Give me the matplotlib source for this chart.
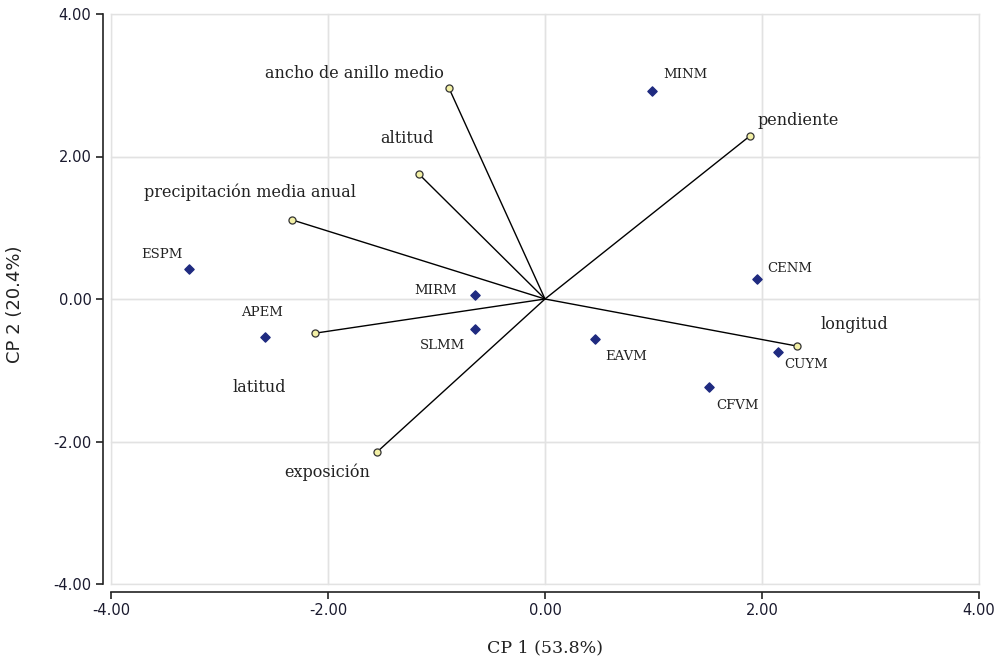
import matplotlib
matplotlib.use("Agg")
import matplotlib.pyplot as plt

# Observations (sites)
obs_names = ["MINM", "CENM", "ESPM", "MIRM", "SLMM", "APEM", "EAVM", "CUYM", "CFVM"]
obs_x = [0.99, 1.95, -3.28, -0.645, -0.645, -2.58, 0.46, 2.15, 1.51]
obs_y = [2.92, 0.28, 0.42, 0.056, -0.42, -0.53, -0.56, -0.74, -1.24]

# Variables (loadings)
var_names = ["ancho de anillo medio", "pendiente", "altitud", "precipitación media anual",
             "longitud", "latitud", "exposición"]
var_x = [-0.885, 1.89, -1.16, -2.33, 2.32, -2.12, -1.55]
var_y = [2.96, 2.29, 1.75, 1.11, -0.66, -0.48, -2.15]

ticks = [-4, -2, 0, 2, 4]
tick_labels = ["-4.00", "-2.00", "0.00", "2.00", "4.00"]

# label offsets in pixels (layout only)
obs_off = {"MINM": (33, 16), "CENM": (33, 11), "ESPM": (-27, 15), "MIRM": (-39, 5),
           "SLMM": (-33, -17), "APEM": (-3, 24), "EAVM": (31, -18), "CUYM": (28, -13),
           "CFVM": (29, -18)}
var_off = {"ancho de anillo medio": (-95, 15), "pendiente": (48, 15), "altitud": (-12, 36),
           "precipitación media anual": (-42, 28), "longitud": (58, 22), "latitud": (-56, -54),
           "exposición": (-50, -20)}

fig = plt.figure(figsize=(9.98, 6.63), dpi=100)
ax = fig.add_axes([111/998, 1-584/663, (979-111)/998, (584-14)/663])
ax.set_xlim(-4, 4)
ax.set_ylim(-4, 4)

for s in ["top", "right"]:
    ax.spines[s].set_visible(False)
for s in ["left", "bottom"]:
    ax.spines[s].set_position(("outward", 6))
    ax.spines[s].set_linewidth(1.2)
    ax.spines[s].set_color("#222222")

ax.set_xticks(ticks)
ax.set_yticks(ticks)
ax.set_xticklabels(tick_labels)
ax.set_yticklabels(tick_labels)
ax.tick_params(direction="out", length=5, width=1.2, color="#222222",
               labelsize=10.5, labelcolor="#1a1a2e", pad=3)
for lab in ax.get_xticklabels() + ax.get_yticklabels():
    lab.set_family("DejaVu Sans")

ax.grid(True, color="#e2e2e2", linewidth=1.0)
ax.set_axisbelow(True)
for t in ticks:
    ax.axhline(t, color="#e2e2e2", lw=1.0, zorder=0, clip_on=False)
    ax.axvline(t, color="#e2e2e2", lw=1.0, zorder=0, clip_on=False)

# vectors
for x, y in zip(var_x, var_y):
    ax.plot([0, x], [0, y], color="black", lw=1.0, zorder=2)
ax.scatter(var_x, var_y, marker="o", s=26, facecolor="#f3f0a6", edgecolor="#333333",
           linewidths=0.9, zorder=3)
ax.scatter(obs_x, obs_y, marker="D", s=22, color="#1f2a80", zorder=3)

serif = ["DejaVu Serif"]
for n, x, y in zip(obs_names, obs_x, obs_y):
    dx, dy = obs_off[n]
    ax.annotate(n, (x, y), xytext=(dx * 0.72, dy * 0.72), textcoords="offset points",
                ha="center", va="center", fontsize=9.5, family=serif, color="#222222")
for n, x, y in zip(var_names, var_x, var_y):
    dx, dy = var_off[n]
    ax.annotate(n, (x, y), xytext=(dx * 0.72, dy * 0.72), textcoords="offset points",
                ha="center", va="center", fontsize=11.5, family=serif, color="#222222")

fig.text(545/998, 1-648/663, "CP 1 (53.8%)", ha="center", va="center", fontsize=12.5,
         family=serif, color="#222222")
fig.text(15/998, 1-304/663, "CP 2 (20.4%)", ha="center", va="center", rotation=90,
         fontsize=13, family="DejaVu Sans", color="#222222")

fig.savefig("out.png", dpi=100)
